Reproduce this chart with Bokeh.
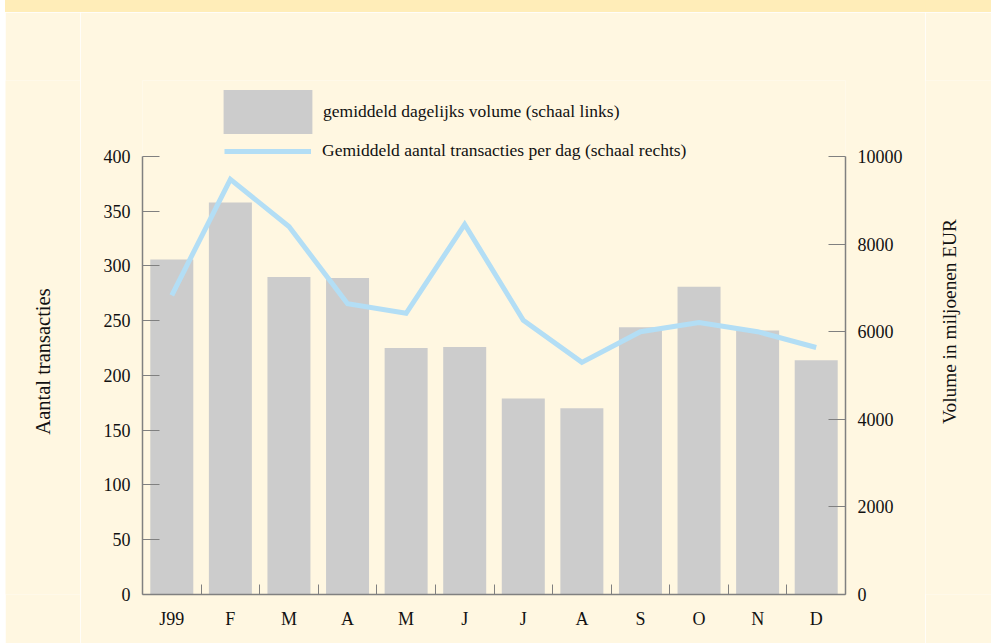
import math
from bokeh.plotting import figure
from bokeh.models import (Range1d, LinearAxis, FixedTicker, Legend, LegendItem,
                          ColumnDataSource, Div, Label)
from bokeh.layouts import column, row
from bokeh.embed import file_html
from bokeh.resources import INLINE

# ---- data ----
months = ["J99", "F", "M", "A", "M", "J", "J", "A", "S", "O", "N", "D"]
volume = [306, 358, 290, 289, 225, 226, 179, 170, 244, 281, 241, 214]          # left scale
transactions = [6830, 9480, 8400, 6640, 6420, 8450, 6260, 5300, 6000, 6210, 6000, 5640]  # right scale
left_ticks = [0, 50, 100, 150, 200, 250, 300, 350, 400]
right_ticks = [0, 2000, 4000, 6000, 8000, 10000]
bar_label = "gemiddeld dagelijks volume (schaal links)"
line_label = "Gemiddeld aantal transacties per dag (schaal rechts)"
left_title = "Aantal transacties"
right_title = "Volume in miljoenen EUR"

BG = "#FFF7E1"
STRIP = "#FFEDB8"
AXIS = "#808080"
FONT = "Liberation Serif"

xs = [i + 0.5 for i in range(len(months))]
bounds_x = [i for i in range(1, len(months))]

src = ColumnDataSource(dict(x=xs, month=months, volume=volume, trans=transactions))

y_top = 469.4
p = figure(width=845, height=631, x_range=Range1d(0, len(months)), y_range=Range1d(0, y_top),
           output_backend="svg", toolbar_location=None,
           background_fill_color=BG, border_fill_color=BG, outline_line_color=None,
           min_border_left=62, min_border_right=80, min_border_top=68, min_border_bottom=49)
p.extra_y_ranges = {"vol": Range1d(0, y_top * 25)}
p.grid.visible = False

bars = p.vbar(x="x", top="volume", width=0.734, source=src,
              fill_color="#CCCCCC", line_color=None)
line = p.line(x="x", y="trans", source=src, y_range_name="vol",
              line_color="#B3DEF5", line_width=5, line_join="miter")

# bottom axis
xa = p.xaxis[0]
xa.ticker = FixedTicker(ticks=xs, minor_ticks=bounds_x)
xa.major_label_overrides = {x: m for x, m in zip(xs, months)}
xa.major_tick_line_color = None
xa.major_tick_in = 0
xa.major_tick_out = 0
xa.minor_tick_in = 10
xa.minor_tick_out = 0
xa.minor_tick_line_color = AXIS
xa.axis_line_color = AXIS
xa.axis_line_width = 1.5
xa.major_label_standoff = 14
xa.major_label_text_font = FONT
xa.major_label_text_font_size = "18px"
xa.major_label_text_color = "#111111"

def style_y(ax, ticks, bnds):
    ax.ticker = FixedTicker(ticks=ticks)
    ax.bounds = bnds
    ax.major_tick_in = 17
    ax.major_tick_out = 0
    ax.minor_tick_line_color = None
    ax.major_tick_line_color = AXIS
    ax.axis_line_color = AXIS
    ax.axis_line_width = 1.5
    ax.major_label_standoff = 12
    ax.major_label_text_font = FONT
    ax.major_label_text_font_size = "18px"
    ax.major_label_text_color = "#111111"

style_y(p.yaxis[0], left_ticks, (0, 400))

ra = LinearAxis(y_range_name="vol")
style_y(ra, right_ticks, (0, 10000))
p.add_layout(ra, "right")

common = dict(padding=0, margin=0, border_line_color=None, background_fill_alpha=0,
              label_text_font=FONT, label_text_font_size="17.5px",
              label_text_color="#111111", spacing=0)
leg1 = Legend(items=[LegendItem(label=bar_label, renderers=[bars])],
              location=(70, 455), glyph_width=111, glyph_height=55, label_standoff=0, **common)
leg2 = Legend(items=[LegendItem(label=line_label, renderers=[line])],
              location=(82, 433), glyph_width=87, glyph_height=20, label_standoff=11, **common)
p.add_layout(leg1)
p.add_layout(leg2)


def title_panel(width, text, sx, sy, size):
    """Narrow side panel carrying a vertical axis title, reading bottom-to-top."""
    q = figure(width=width, height=631, x_range=Range1d(0, 1), y_range=Range1d(0, 1),
               output_backend="svg", toolbar_location=None,
               x_axis_location=None, y_axis_location=None,
               background_fill_color=BG, border_fill_color=BG, outline_line_color=None,
               min_border_left=0, min_border_right=0, min_border_top=0, min_border_bottom=0)
    q.grid.visible = False
    q.add_layout(Label(x=sx, y=sy, x_units="screen", y_units="screen", text=text,
                       angle=math.pi / 2, text_align="center", text_baseline="middle",
                       text_font=FONT, text_font_size=size, text_color="#111111"))
    return q


p0 = title_panel(75, left_title, 37, 233, "20.5px")
p2 = title_panel(66, right_title, 24, 273, "19.3px")

strip = Div(text="", width=986, height=12, margin=0,
            styles={"background-color": STRIP})
layout = column(strip, row(p0, p, p2, spacing=0), spacing=0, margin=(0, 0, 0, 5))

open("out.html", "w").write(file_html(layout, INLINE))
